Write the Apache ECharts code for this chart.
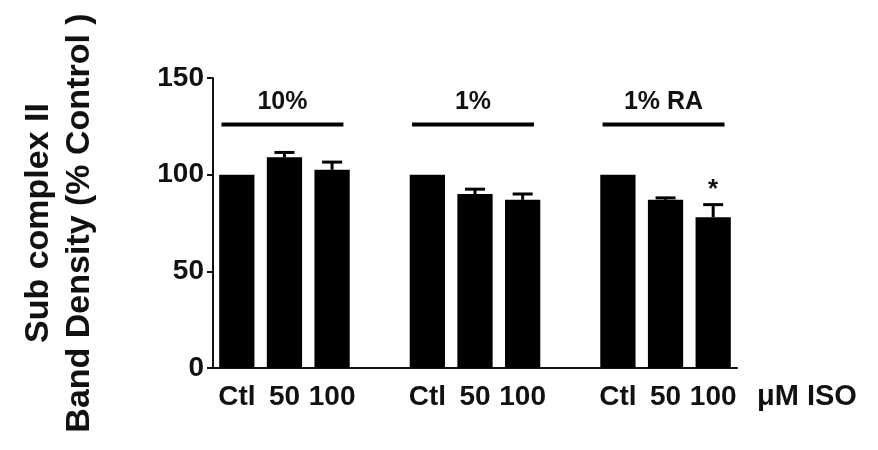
<!DOCTYPE html>
<html>
<head>
<meta charset="utf-8">
<script src="https://cdn.jsdelivr.net/npm/echarts@6/dist/echarts.min.js"></script>
<style>
  html, body { margin: 0; padding: 0; background: #fff; }
  #chart { width: 878px; height: 450px; }
</style>
</head>
<body>
<div id="chart"></div>
<script>
// Categories: three conditions, each Ctl / 50 / 100 µM ISO, separated by an empty slot
const categories = ['Ctl', '50', '100', '', 'Ctl', '50', '100', '', 'Ctl', '50', '100'];
// Mean band density (% control); '-' marks the spacer slots
const means = [100, 109, 102.5, '-', 100, 90, 87, '-', 100, 87, 78];
// Upper error (SEM)
const errors = [0, 2.5, 4, 0, 0, 2.5, 3, 0, 0, 1, 6.5];
// Significance markers
const marks = ['', '', '', '', '', '', '', '', '', '', '*'];
// Condition groups: first and last category index, label
const groupStart = [0, 4, 8];
const groupEnd = [2, 6, 10];
const groupLabels = ['10%', '1%', '1% RA'];
const groupLineValue = 126;
const groupLabelValue = 137.5;
// Y axis ticks
const yMin = 0, yMax = 150, yStep = 50;

const FONT = '"Liberation Sans", Arial, sans-serif';

const errorData = [];
means.forEach((m, i) => {
  if (m !== '-') errorData.push([i, m, errors[i], marks[i]]);
});
const groupData = groupLabels.map((g, i) => [groupStart[i], groupEnd[i], groupLineValue, groupLabelValue, g]);

const chart = echarts.init(document.getElementById('chart'), null, { renderer: 'canvas' });

chart.setOption({
  animation: false,
  backgroundColor: '#ffffff',
  grid: { left: 213, right: 141, top: 78, bottom: 82, containLabel: false },
  xAxis: {
    type: 'category',
    data: categories,
    name: 'μM ISO',
    nameLocation: 'end',
    nameGap: 20,
    nameTextStyle: {
      fontFamily: FONT, fontWeight: 'bold', fontSize: 29, color: '#111',
      align: 'left', verticalAlign: 'top', padding: [14, 0, 0, 0]
    },
    axisLine: { lineStyle: { color: '#111', width: 2 } },
    axisTick: { show: false },
    axisLabel: {
      interval: 0, margin: 15,
      fontFamily: FONT, fontWeight: 'bold', fontSize: 28, color: '#111'
    },
    splitLine: { show: false }
  },
  yAxis: {
    type: 'value',
    min: yMin, max: yMax, interval: yStep,
    name: 'Sub complex II\nBand Density (% Control )',
    nameLocation: 'middle',
    nameRotate: 90,
    nameGap: 113,
    nameTextStyle: {
      fontFamily: FONT, fontWeight: 'bold', fontSize: 34, color: '#111', lineHeight: 41
    },
    axisLine: { show: true, lineStyle: { color: '#111', width: 2 } },
    axisTick: { show: true, length: 6, lineStyle: { color: '#111', width: 2 } },
    axisLabel: {
      margin: 9,
      fontFamily: FONT, fontWeight: 'bold', fontSize: 28, color: '#111'
    },
    splitLine: { show: false }
  },
  series: [
    {
      type: 'bar',
      data: means,
      barWidth: '74%',
      itemStyle: { color: '#000' },
      z: 2
    },
    {
      // upper error bars and significance asterisks
      type: 'custom',
      data: errorData,
      z: 3,
      renderItem: function (params, api) {
        const idx = api.value(0);
        const m = api.value(1);
        const e = api.value(2);
        const star = errorData[params.dataIndex][3];
        const base = api.coord([idx, m]);
        const top = api.coord([idx, m + e]);
        const capHalf = 10;
        const children = [];
        if (e > 0) {
          children.push({
            type: 'line',
            shape: { x1: base[0], y1: base[1], x2: top[0], y2: top[1] },
            style: { stroke: '#000', lineWidth: 3 }
          });
          children.push({
            type: 'line',
            shape: { x1: top[0] - capHalf, y1: top[1], x2: top[0] + capHalf, y2: top[1] },
            style: { stroke: '#000', lineWidth: 3 }
          });
        }
        if (star) {
          children.push({
            type: 'text',
            style: {
              text: star, x: top[0], y: top[1] - 2,
              align: 'center', verticalAlign: 'bottom',
              font: 'bold 26px ' + FONT, fill: '#111'
            }
          });
        }
        return { type: 'group', children: children };
      }
    },
    {
      // condition brackets with their labels
      type: 'custom',
      data: groupData,
      z: 3,
      renderItem: function (params, api) {
        const s = api.coord([api.value(0), api.value(2)]);
        const e = api.coord([api.value(1), api.value(2)]);
        const lab = api.coord([(api.value(0) + api.value(1)) / 2, api.value(3)]);
        const band = api.size([1, 0])[0];
        const mid = (s[0] + e[0]) / 2 - 2;
        const half = band * 1.28;
        return {
          type: 'group',
          children: [
            {
              type: 'line',
              shape: { x1: mid - half, y1: s[1], x2: mid + half, y2: s[1] },
              style: { stroke: '#000', lineWidth: 4 }
            },
            {
              type: 'text',
              style: {
                text: groupData[params.dataIndex][4], x: mid, y: lab[1],
                align: 'center', verticalAlign: 'middle',
                font: 'bold 25px ' + FONT, fill: '#111'
              }
            }
          ]
        };
      }
    }
  ]
});
</script>
</body>
</html>
